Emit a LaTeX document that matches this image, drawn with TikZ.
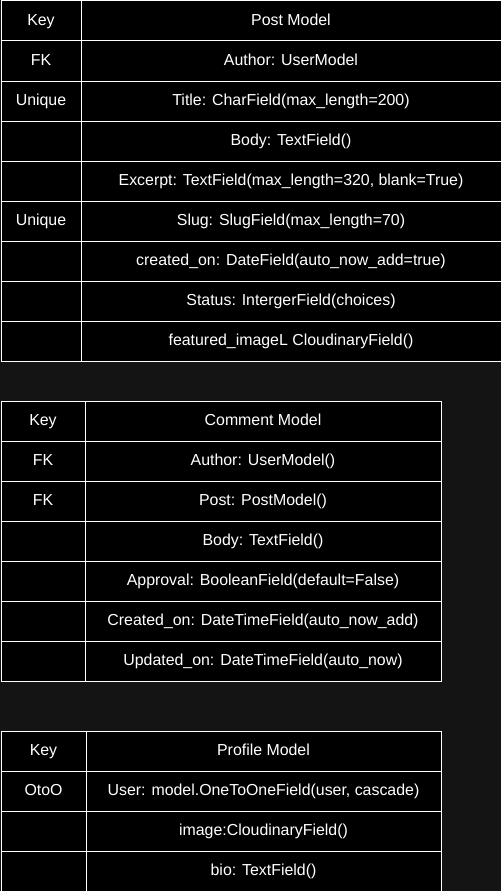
\documentclass[tikz,border=0pt]{standalone}
\usepackage{fontspec}
\setmainfont{Liberation Sans}
\definecolor{canvas}{HTML}{141414}
\begin{document}
\begin{tikzpicture}[x=1pt,y=-1pt,
  cell/.style={draw=white,fill=black,text=white,line width=1pt,inner sep=0pt,
    minimum height=40pt,text height=11.5pt,text depth=3pt,
    font=\fontsize{15.9}{18}\selectfont,anchor=north west},
  keycell/.style={cell,minimum width=#1},
  fieldcell/.style={cell,minimum width=#1}]
\fill[canvas] (0,0) rectangle (501,891);
\useasboundingbox (0,0) rectangle (501,891);

% Post model
\foreach \i/\k/\f in {0/Key/Post Model,1/FK/Author: UserModel,2/Unique/Title: CharField(max\_length=200),
  3//Body: TextField(),4//{Excerpt: TextField(max\_length=320, blank=True)},5/Unique/Slug: SlugField(max\_length=70),
  6//created\_on: DateField(auto\_now\_add=true),7//Status: IntergerField(choices),8//featured\_imageL CloudinaryField()}{
  \node[keycell=80pt] (pk\i) at (0.5,{0.5+40*\i}) {\k};
  \node[fieldcell=420pt] (pf\i) at (80.5,{0.5+40*\i}) {\f};
}

% Comment model
\foreach \i/\k/\f in {0/Key/Comment Model,1/FK/Author: UserModel(),2/FK/Post: PostModel(),3//Body: TextField(),
  4//Approval: BooleanField(default=False),5//Created\_on: DateTimeField(auto\_now\_add),
  6//Updated\_on: DateTimeField(auto\_now)}{
  \node[keycell=84pt] (ck\i) at (0.5,{400.5+40*\i}) {\k};
  \node[fieldcell=356pt] (cf\i) at (84.5,{400.5+40*\i}) {\f};
}

% Profile model
\foreach \i/\k/\f in {0/Key/Profile Model,1/OtoO/{User: model.OneToOneField(user, cascade)},2//image:CloudinaryField(),
  3//bio: TextField()}{
  \node[keycell=85pt] (rk\i) at (0.5,{730.5+40*\i}) {\k};
  \node[fieldcell=355pt] (rf\i) at (85.5,{730.5+40*\i}) {\f};
}
\end{tikzpicture}
\end{document}
